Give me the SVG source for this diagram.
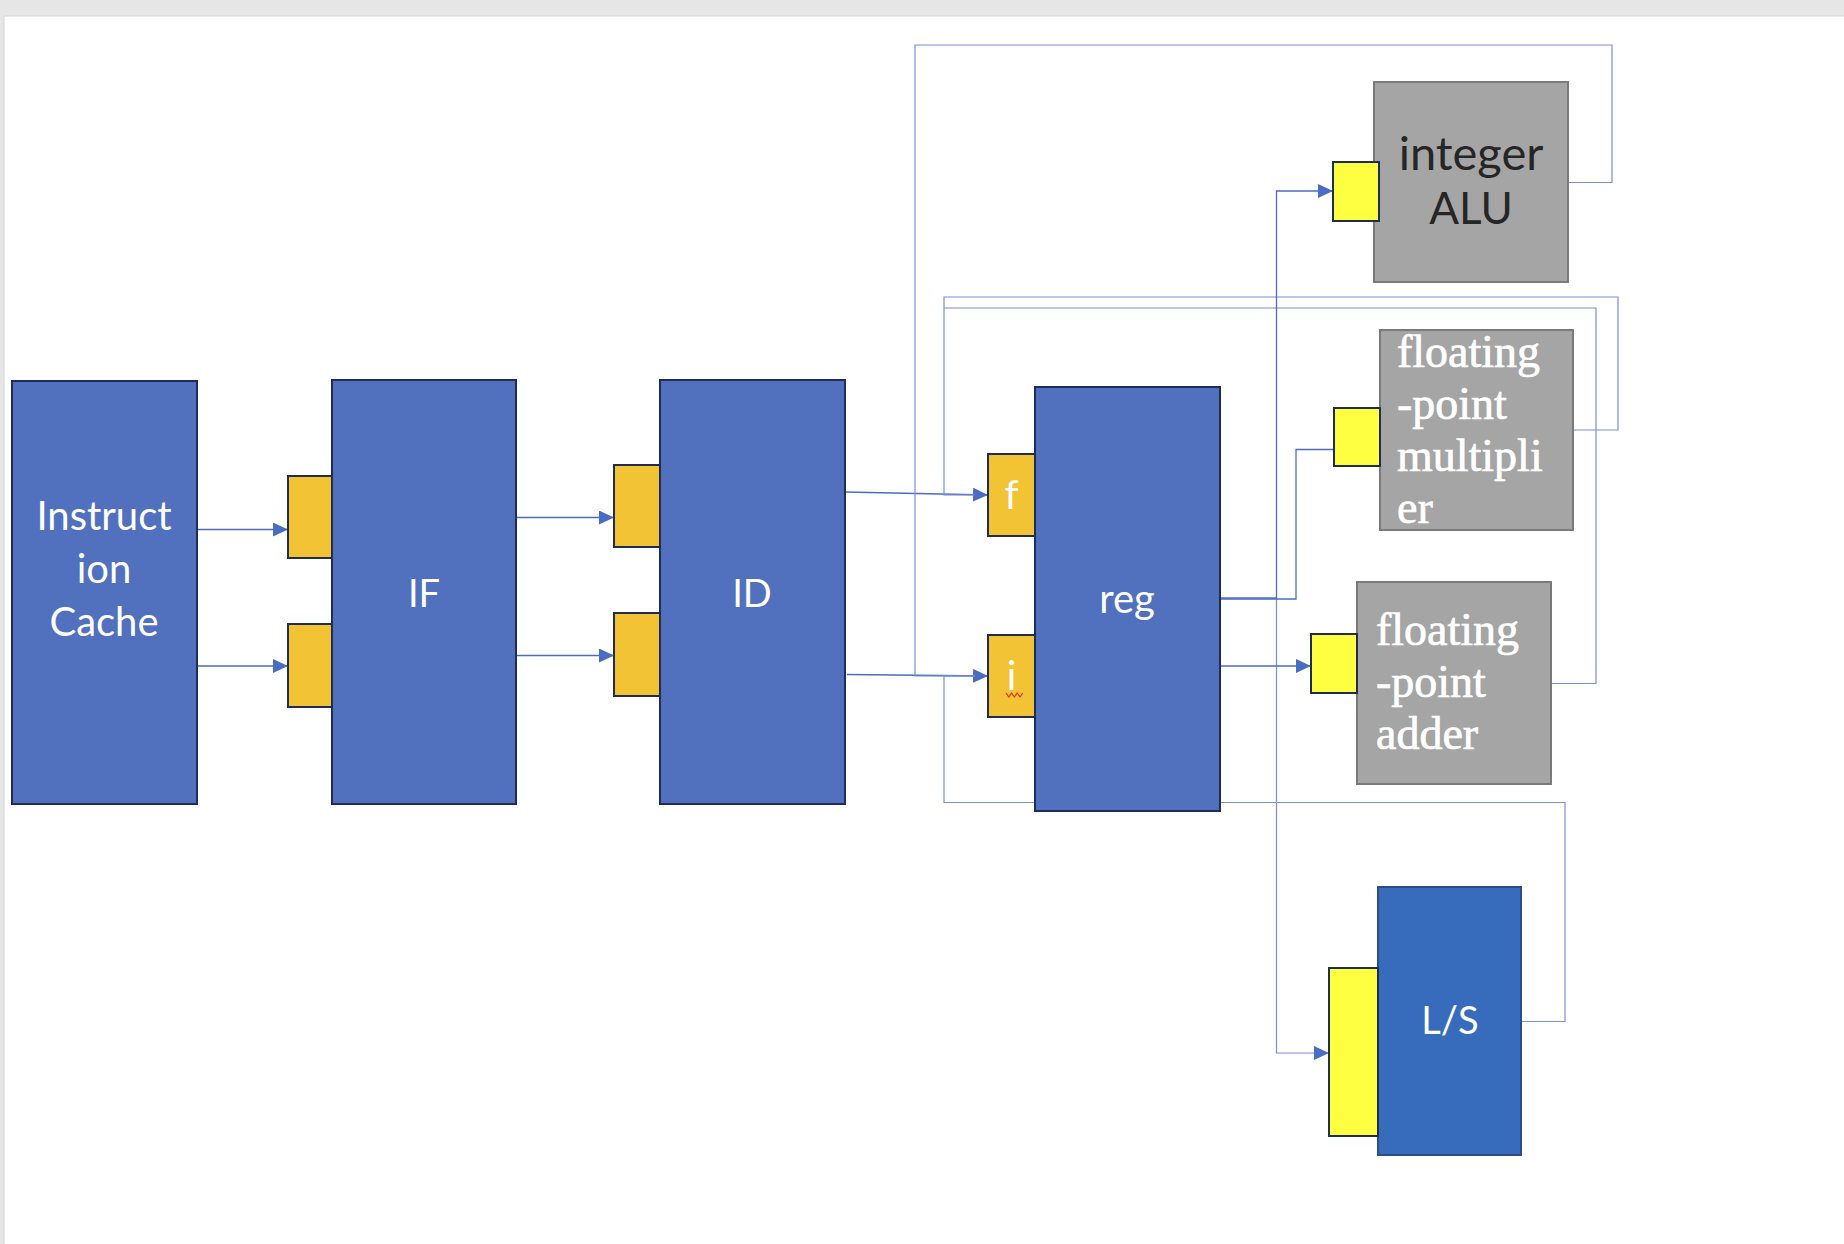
<svg xmlns="http://www.w3.org/2000/svg" width="1844" height="1244" viewBox="0 0 1844 1244">
<defs>
<marker id="arr" markerUnits="userSpaceOnUse" markerWidth="16" markerHeight="14" refX="15" refY="7" orient="auto"><path d="M0,0 L15,7 L0,14 z" fill="#4a6cc2"/></marker>
<style>
.blue{fill:#5171be;stroke:#1f2d52;stroke-width:2}
.rego{fill:#f2c335;stroke:#1f2d52;stroke-width:2}
.regy{fill:#ffff41;stroke:#1f2d52;stroke-width:2}
.gray{fill:#a5a5a5;stroke:#7a7a7a;stroke-width:2}
.ls{fill:#376cbd;stroke:#2d4c8c;stroke-width:2}
.wt{font-family:Lato,"Open Sans",sans-serif;fill:#ffffff;text-anchor:middle}
.ser{font-family:"Liberation Serif",serif;fill:#ffffff;font-size:46px;stroke:#ffffff;stroke-width:0.7}
.dk{font-family:Lato,"Open Sans",sans-serif;fill:#262626;text-anchor:middle}
.c{fill:none;stroke:#4a6cc2;stroke-width:1.3}
.fb{fill:none;stroke:#7890d4;stroke-width:1.2}
</style>
</defs>
<rect x="0" y="0" width="1844" height="1244" fill="#e6e6e6"/>
<rect x="4" y="16" width="1841" height="1229" fill="#ffffff" stroke="#d6d6d6" stroke-width="1"/>

<g id="connectors">
<path class="c" d="M197,529.5 H288" marker-end="url(#arr)"/>
<path class="c" d="M197,666 H288" marker-end="url(#arr)"/>
<path class="c" d="M516,517.5 H614" marker-end="url(#arr)"/>
<path class="c" d="M516,655.5 H614" marker-end="url(#arr)"/>
<path class="c" d="M845,492 L988,495" marker-end="url(#arr)"/>
<path class="c" d="M847,674.5 L988,676" marker-end="url(#arr)"/>
<path class="fb" d="M1568,182.5 H1612 V45 H915 V676 H975"/>
<path class="fb" d="M1573,430 H1618 V297 H944 V495 H975"/>
<path class="fb" d="M1551,683.5 H1596 V308 H944"/>
<path class="fb" d="M1521,1021.5 H1565 V802.5 H944 V676 H975"/>
<path class="c" d="M1220,598 H1276.5 V191 H1333" marker-end="url(#arr)"/>
<path class="fb" d="M1276.5,598 V1053 H1329" marker-end="url(#arr)"/>
<path class="c" d="M1220,599 H1296 V449.5 H1334"/>
<path class="c" d="M1220,666 H1311" marker-end="url(#arr)"/>
</g>

<g id="instruction-cache">
<rect class="blue" x="12" y="381" width="185" height="423"/>
<text class="wt" font-size="40" x="104" y="530">Instruct</text>
<text class="wt" font-size="40" x="104" y="583">ion</text>
<text class="wt" font-size="40" x="104" y="636">Cache</text>
</g>

<g id="if-reg-top"><rect class="rego" x="288" y="476" width="46" height="82"/></g>
<g id="if-reg-bottom"><rect class="rego" x="288" y="624" width="46" height="83"/></g>
<g id="IF">
<rect class="blue" x="332" y="380" width="184" height="424"/>
<text class="wt" font-size="38" x="424" y="607">IF</text>
</g>

<g id="id-reg-top"><rect class="rego" x="614" y="465" width="46" height="82"/></g>
<g id="id-reg-bottom"><rect class="rego" x="614" y="613" width="46" height="83"/></g>
<g id="ID">
<rect class="blue" x="660" y="380" width="185" height="424"/>
<text class="wt" font-size="38" x="752" y="607">ID</text>
</g>

<g id="reg">
<rect class="blue" x="1035" y="387" width="185" height="424"/>
<text class="wt" font-size="40" x="1127" y="613">reg</text>
</g>
<g id="reg-f">
<rect class="rego" x="988" y="454" width="47" height="82"/>
<text class="wt" font-size="40" x="1011.5" y="509">f</text>
</g>
<g id="reg-i">
<rect class="rego" x="988" y="635" width="47" height="82"/>
<text class="wt" font-size="40" x="1011.5" y="690">i</text>
<path d="M1006,693 l2.8,4 l2.8,-4 l2.8,4 l2.8,-4 l2.8,4 l2.8,-4" fill="none" stroke="#e0302a" stroke-width="1.2"/>
</g>

<g id="integer-alu">
<rect class="gray" x="1374" y="82" width="194" height="200"/>
<text class="dk" font-size="47" x="1471" y="170">integer</text>
<text class="dk" font-size="44" x="1471" y="224">ALU</text>
</g>
<g id="alu-input"><rect class="regy" x="1333" y="162" width="46" height="59"/></g>

<g id="fp-multiplier">
<rect class="gray" x="1380" y="330" width="193" height="200"/>
<text class="ser" x="1397" y="367">floating</text>
<text class="ser" x="1397" y="419">-point</text>
<text class="ser" x="1397" y="471">multipli</text>
<text class="ser" x="1397" y="523">er</text>
</g>
<g id="mult-input"><rect class="regy" x="1334" y="408" width="46" height="58"/></g>

<g id="fp-adder">
<rect class="gray" x="1357" y="582" width="194" height="202"/>
<text class="ser" x="1376" y="645">floating</text>
<text class="ser" x="1376" y="697">-point</text>
<text class="ser" x="1376" y="749">adder</text>
</g>
<g id="adder-input"><rect class="regy" x="1311" y="634" width="46" height="59"/></g>

<g id="load-store">
<rect class="ls" x="1378" y="887" width="143" height="268"/>
<text class="wt" font-size="38" x="1450" y="1034">L/S</text>
</g>
<g id="ls-input"><rect class="regy" x="1329" y="968" width="49" height="168"/></g>
</svg>
